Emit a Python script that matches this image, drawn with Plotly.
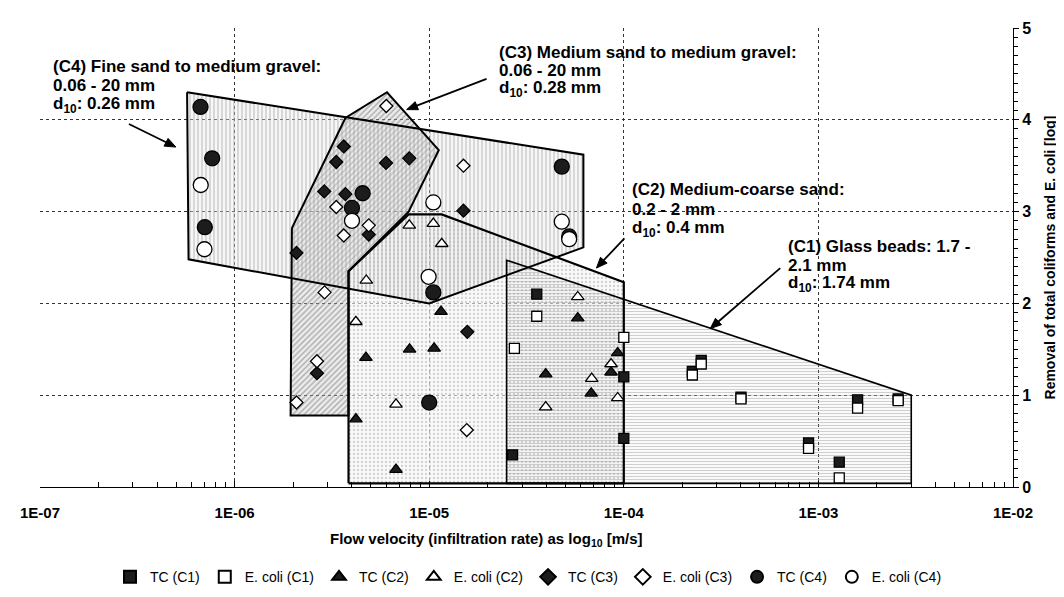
import numpy as np
import plotly.graph_objects as go

# ---------------- data ----------------
x_tick_vals = [1e-7, 1e-6, 1e-5, 1e-4, 1e-3, 1e-2]
x_tick_text = ["1E-07", "1E-06", "1E-05", "1E-04", "1E-03", "1E-02"]
y_tick_vals = [0, 1, 2, 3, 4, 5]

# sample points (flow velocity m/s, log removal)
tc_c1_x = [3.57e-5, 2.68e-5, 1.0e-4, 1.0e-4, 2.25e-4, 2.5e-4, 4.0e-4, 8.9e-4, 1.28e-3, 1.59e-3, 2.57e-3]
tc_c1_y = [2.10, 0.35, 1.20, 0.53, 1.26, 1.38, 0.98, 0.48, 0.27, 0.95, 0.96]
ec_c1_x = [3.57e-5, 2.74e-5, 1.0e-4, 2.25e-4, 2.5e-4, 4.0e-4, 8.9e-4, 1.28e-3, 1.59e-3, 2.57e-3]
ec_c1_y = [1.86, 1.51, 1.63, 1.22, 1.34, 0.96, 0.42, 0.10, 0.86, 0.94]

tc_c2_x = [1.15e-5, 7.93e-6, 1.06e-5, 4.73e-6, 4.2e-6, 6.75e-6, 3.97e-5, 5.8e-5, 9.3e-5, 8.6e-5, 6.8e-5]
tc_c2_y = [1.91, 1.50, 1.51, 1.41, 0.74, 0.19, 1.23, 1.84, 1.46, 1.25, 1.02]
ec_c2_x = [7.9e-6, 1.05e-5, 1.16e-5, 4.75e-6, 4.2e-6, 6.75e-6, 3.97e-5, 5.8e-5, 8.6e-5, 6.84e-5, 9.3e-5]
ec_c2_y = [2.85, 2.87, 2.65, 2.25, 1.80, 0.90, 0.87, 2.07, 1.34, 1.18, 0.97]

tc_c3_x = [3.64e-6, 3.33e-6, 6.0e-6, 7.9e-6, 2.89e-6, 3.71e-6, 4.89e-6, 2.08e-6, 1.5e-5, 1.57e-5, 2.65e-6]
tc_c3_y = [3.71, 3.54, 3.53, 3.58, 3.22, 3.19, 2.75, 2.55, 3.01, 1.69, 1.24]
ec_c3_x = [6.02e-6, 3.33e-6, 4.89e-6, 3.64e-6, 1.5e-5, 2.9e-6, 2.65e-6, 2.08e-6, 1.56e-5]
ec_c3_y = [4.15, 3.05, 2.85, 2.74, 3.50, 2.12, 1.37, 0.92, 0.62]

tc_c4_x = [6.68e-7, 7.67e-7, 7.03e-7, 4.55e-6, 4.01e-6, 4.8e-5, 5.24e-5, 1.05e-5, 1.0e-5]
tc_c4_y = [4.14, 3.58, 2.83, 3.20, 3.04, 3.49, 2.73, 2.12, 0.92]
ec_c4_x = [6.7e-7, 7.0e-7, 4.01e-6, 1.05e-5, 4.8e-5, 5.24e-5, 9.93e-6]
ec_c4_y = [3.29, 2.59, 2.90, 3.10, 2.89, 2.70, 2.29]

# envelope polygons of each column
c1_poly_x = [2.5e-5, 2.5e-5, 3.0e-3, 3.0e-3]
c1_poly_y = [0.04, 2.47, 1.0, 0.04]
c2_poly_x = [3.85e-6, 3.85e-6, 7.84e-6, 1.16e-5, 1.0e-4, 1.0e-4]
c2_poly_y = [0.04, 2.35, 2.97, 2.97, 2.23, 0.04]
c3_poly_x = [1.97e-6, 3.71e-6, 6.07e-6, 1.12e-5, 7.84e-6, 3.85e-6, 3.85e-6, 1.94e-6]
c3_poly_y = [2.82, 4.02, 4.30, 3.67, 3.0, 2.35, 0.78, 0.78]
c4_poly_x = [5.7e-7, 6.2e-5, 6.2e-5, 1.0e-5, 5.8e-7]
c4_poly_y = [4.30, 3.62, 2.61, 2.0, 2.48]

# labels (lines)
c4_lines = ["(C4) Fine sand to medium gravel:", "0.06 - 20 mm", "d<sub>10</sub>: 0.26 mm"]
c3_lines = ["(C3) Medium sand to medium gravel:", "0.06 - 20 mm", "d<sub>10</sub>: 0.28 mm"]
c2_lines = ["(C2) Medium-coarse sand:", "0.2 - 2 mm", "d<sub>10</sub>: 0.4 mm"]
c1_lines = ["(C1) Glass beads: 1.7 -", "2.1 mm", "d<sub>10</sub>: 1.74 mm"]

# ---------------- layout constants ----------------
W, H = 1064, 597
L, R, T, B = 31, 59, 15, 104
PW, PH = W - L - R, H - T - B


def px2paper(px, py):
    return (px - L) / PW, (H - B - py) / PH


FONT = "Arial, Liberation Sans, sans-serif"

fig = go.Figure()


def add_fill(xs, ys, shape, fg, bg, size, sol):
    fig.add_trace(go.Scatter(
        x=xs + [xs[0]], y=ys + [ys[0]], mode="lines", fill="toself",
        fillcolor=bg,
        fillpattern=dict(shape=shape, fgcolor=fg, bgcolor=bg, size=size, solidity=sol),
        line=dict(color="rgba(0,0,0,0)", width=0),
        showlegend=False, hoverinfo="skip"))


def add_outline(xs, ys, lw):
    fig.add_trace(go.Scatter(
        x=xs + [xs[0]], y=ys + [ys[0]], mode="lines",
        line=dict(color="black", width=lw),
        showlegend=False, hoverinfo="skip"))


add_fill(c2_poly_x, c2_poly_y, ".", "#a8a8a8", "rgba(245,245,245,0.6)", 4, 0.25)
add_fill(c1_poly_x, c1_poly_y, "-", "#a0a0a0", "rgba(255,255,255,0.0)", 3, 0.4)
add_fill(c3_poly_x, c3_poly_y, "/", "#6a6a6a", "rgba(200,200,200,0.35)", 4, 0.35)
add_fill(c4_poly_x, c4_poly_y, "|", "#8c8c8c", "rgba(230,230,230,0.35)", 4, 0.3)
add_outline(c1_poly_x, c1_poly_y, 1.6)
add_outline(c2_poly_x, c2_poly_y, 2.2)
add_outline(c3_poly_x, c3_poly_y, 2.0)
add_outline(c4_poly_x, c4_poly_y, 2.0)


def add_pts(xs, ys, name, symbol, size, filled):
    fig.add_trace(go.Scatter(
        x=xs, y=ys, mode="markers", name=name,
        marker=dict(symbol=symbol, size=size,
                    color="#1c1c1c" if filled else "white",
                    line=dict(color="black", width=1.3)),
    ))


add_pts(tc_c1_x, tc_c1_y, "TC (C1)", "square", 10, True)
add_pts(ec_c1_x, ec_c1_y, "E. coli (C1)", "square", 10, False)
add_pts(tc_c2_x, tc_c2_y, "TC (C2)", "triangle-up", 11, True)
add_pts(ec_c2_x, ec_c2_y, "E. coli (C2)", "triangle-up", 11, False)
add_pts(tc_c3_x, tc_c3_y, "TC (C3)", "diamond", 10, True)
add_pts(ec_c3_x, ec_c3_y, "E. coli (C3)", "diamond", 10, False)
add_pts(tc_c4_x, tc_c4_y, "TC (C4)", "circle", 15, True)
add_pts(ec_c4_x, ec_c4_y, "E. coli (C4)", "circle", 15, False)

annotations = []


def add_label(lines, px, py_first, spacing):
    for i, t in enumerate(lines):
        xp, yp = px2paper(px, py_first + i * spacing)
        annotations.append(dict(
            x=xp, y=yp, xref="paper", yref="paper", text=t, showarrow=False,
            xanchor="left", yanchor="middle",
            font=dict(family=FONT, size=17, color="black", weight="bold")))


add_label(c4_lines, 42, 55, 20)
add_label(c3_lines, 488, 40, 19.5)
add_label(c2_lines, 622, 183, 20.5)
add_label(c1_lines, 778, 243, 19.5)

# callout arrows drawn as shapes (pixel tail -> pixel head)
shapes = []


def add_arrow(tx, ty, hx, hy, head_len=11, head_w=4.5):
    dx, dy = hx - tx, hy - ty
    n = np.hypot(dx, dy)
    ux, uy = dx / n, dy / n
    bx, by = hx - ux * head_len, hy - uy * head_len
    # shaft
    x0, y0 = px2paper(tx, ty)
    x1, y1 = px2paper(bx, by)
    shapes.append(dict(type="line", xref="paper", yref="paper", x0=x0, y0=y0, x1=x1, y1=y1,
                       line=dict(color="black", width=1.8)))
    # head
    p1 = px2paper(hx, hy)
    p2 = px2paper(bx - uy * head_w, by + ux * head_w)
    p3 = px2paper(bx + uy * head_w, by - ux * head_w)
    path = "M {:.5f} {:.5f} L {:.5f} {:.5f} L {:.5f} {:.5f} Z".format(p1[0], p1[1], p2[0], p2[1], p3[0], p3[1])
    shapes.append(dict(type="path", xref="paper", yref="paper", path=path,
                       fillcolor="black", line=dict(color="black", width=1)))


add_arrow(120, 115, 167, 139)
add_arrow(478, 68, 398, 100)
add_arrow(616, 234, 588, 265)
add_arrow(772, 265, 702, 328)

# x-axis title
tx, ty = px2paper(478, 548)
annotations.append(dict(
    x=tx, y=ty, xref="paper", yref="paper", showarrow=False,
    text="Flow velocity (infiltration rate) as log<sub>10</sub> [m/s]",
    xanchor="center", yanchor="middle",
    font=dict(family=FONT, size=15, color="black", weight="bold")))

lx, ly = px2paper(520, 587)

fig.update_layout(
    width=W, height=H,
    margin=dict(l=L, r=R, t=T, b=B),
    paper_bgcolor="white", plot_bgcolor="white",
    annotations=annotations,
    shapes=shapes,
    showlegend=True,
    legend=dict(orientation="h", x=lx, y=ly, xanchor="center", yanchor="middle",
                font=dict(family=FONT, size=14, color="black"),
                itemsizing="constant", itemwidth=30, tracegroupgap=0),
    xaxis=dict(
        type="log", range=[-7, -2],
        tickvals=x_tick_vals, ticktext=x_tick_text,
        tickfont=dict(family=FONT, size=15, color="black", weight="bold"),
        ticks="inside", ticklen=6, tickcolor="black",
        ticklabelstandoff=12,
        minor=dict(ticks="inside", ticklen=5, tickcolor="black", dtick="D1", showgrid=False),
        showgrid=True, gridcolor="#333333", griddash="dot", gridwidth=1,
        showline=True, linecolor="black", linewidth=1.2,
        zeroline=False,
    ),
    yaxis=dict(
        side="right", range=[0, 5],
        tickvals=y_tick_vals,
        tickfont=dict(family=FONT, size=16, color="black", weight="bold"),
        ticks="outside", ticklen=5, tickcolor="black",
        minor=dict(ticks="outside", ticklen=4, tickcolor="black", dtick=0.1, showgrid=False),
        showgrid=True, gridcolor="#333333", griddash="dot", gridwidth=1,
        showline=True, linecolor="black", linewidth=1.2,
        zeroline=False,
        title=dict(text="Removal of total coliforms and E. coli [log]",
                   font=dict(family=FONT, size=14, color="black", weight="bold"),
                   standoff=14),
    ),
)

fig.write_html("out.html")
